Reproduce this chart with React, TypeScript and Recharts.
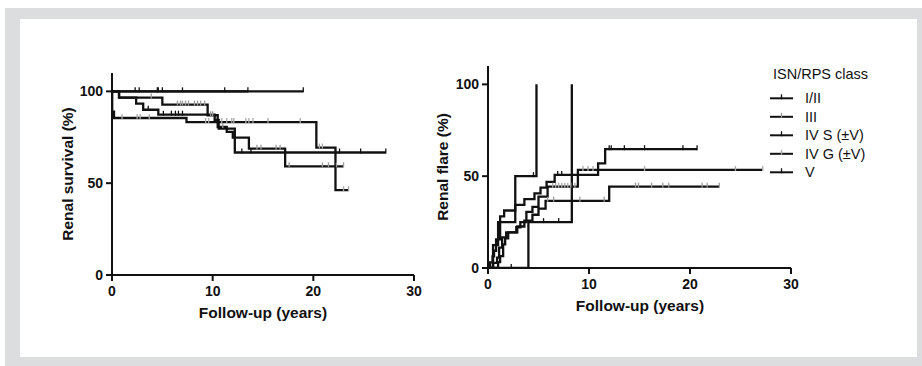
import React from 'react';
import { LineChart, Line, XAxis, YAxis, Legend } from 'recharts';

type Step = [number, number];

const classes = ['I/II', 'III', 'IV S (±V)', 'IV G (±V)', 'V'];
const censorColors = ['#111111', '#9a9a9a', '#111111', '#a8a8a8', '#111111'];

const xTicks = [0, 10, 20, 30];
const yTicks = [0, 50, 100];

// Renal survival (%) - left panel
const survivalI: Step[] = [[0, 100]];
const survivalICensor = [2.3, 4.5, 7.0, 11.2, 19.0];
const survivalIII: Step[] = [[0, 100], [0.7, 96.6], [5.0, 92.8], [9.5, 87.0], [10.5, 80.6], [11.4, 77.9], [12.0, 74.8], [13.6, 68.8], [17.2, 59.2]];
const survivalIIICensor = [3.9, 6.5, 6.8, 7.0, 7.3, 7.6, 8.2, 8.5, 8.8, 9.2, 9.8, 10.0, 11.0, 14.4, 14.8, 16.3, 16.7, 17.6, 20.9, 21.5, 22.3, 23.0];
const survivalIVS: Step[] = [[0, 100], [0.7, 96.6], [2.4, 93.3], [3.1, 90.0], [4.6, 87.3], [10.2, 84.4], [10.6, 79.7], [12.2, 66.7]];
const survivalIVSCensor = [3.6, 5.1, 5.9, 6.3, 6.6, 7.0, 12.9, 13.8, 22.6, 24.7, 27.2];
const survivalIVG: Step[] = [[0, 100], [0.02, 88.9], [0.2, 85.5], [7.4, 83.3], [20.3, 69.4], [22.2, 46.2]];
const survivalIVGCensor = [1.0, 2.5, 2.8, 3.7, 9.3, 9.6, 10.9, 11.4, 11.9, 12.1, 13.3, 13.6, 14.0, 15.5, 18.7, 20.6, 20.9, 23.0, 23.5];
const survivalV: Step[] = [[0, 100]];
const survivalVCensor = [2.7, 4.6, 5.0, 13.5];

// Renal flare (%) - right panel
const flareI: Step[] = [[0, 0], [4.0, 25], [8.3, 100]];
const flareICensor = [2.3, 5.5, 7.0];
const flareIII: Step[] = [[0, 0], [1.0, 3.2], [1.2, 6.5], [1.5, 12.9], [1.7, 16.1], [2.0, 19.4], [2.9, 22.6], [3.6, 25.8], [4.4, 29.0], [5.0, 32.3], [5.7, 36.6], [12.0, 44.3]];
const flareIIICensor = [5.9, 6.5, 9.1, 11.5, 14.6, 14.9, 16.2, 17.3, 17.9, 21.2, 21.7, 22.9];
const flareIVS: Step[] = [[0, 0], [0.2, 3.1], [0.45, 6.3], [0.6, 9.4], [0.8, 15.6], [1.2, 28.1], [1.6, 31.3], [2.7, 34.4], [3.6, 37.5], [4.6, 40.6], [5.2, 43.8], [5.8, 46.9], [6.6, 50.7], [10.9, 57.0], [11.6, 64.7]];
const flareIVSCensor = [6.9, 7.3, 12.0, 12.2, 13.5, 15.5, 19.3, 20.7];
const flareIVG: Step[] = [[0, 0], [0.5, 2.8], [0.9, 5.6], [1.1, 11.1], [1.4, 16.7], [1.8, 19.4], [2.8, 22.2], [3.2, 25.0], [3.8, 30.6], [4.4, 33.3], [5.0, 38.9], [5.9, 44.3], [8.9, 53.4]];
const flareIVGCensor = [6.4, 6.7, 7.0, 7.3, 7.6, 7.9, 8.2, 8.6, 9.4, 9.9, 10.4, 15.5, 24.5, 27.2];
const flareV: Step[] = [[0, 0], [0.5, 12.5], [1.0, 25], [2.7, 50], [4.8, 100]];
const flareVCensor = [4.5];

const buildCurve = (steps: Step[], censor: number[]) => {
  const levelAt = (t: number) => {
    let v = steps[0][1];
    steps.forEach(([x, y]) => {
      if (x <= t) v = y;
    });
    return v;
  };
  const pts = steps.map(([x, y]) => ({ x, y, c: false }));
  censor.forEach((t) => pts.push({ x: t, y: levelAt(t), c: true }));
  pts.sort((a, b) => a.x - b.x || (a.c ? 1 : -1));
  return pts;
};

const survivalCurves = [
  buildCurve(survivalI, survivalICensor),
  buildCurve(survivalIII, survivalIIICensor),
  buildCurve(survivalIVS, survivalIVSCensor),
  buildCurve(survivalIVG, survivalIVGCensor),
  buildCurve(survivalV, survivalVCensor),
];

const flareCurves = [
  buildCurve(flareI, flareICensor),
  buildCurve(flareIII, flareIIICensor),
  buildCurve(flareIVS, flareIVSCensor),
  buildCurve(flareIVG, flareIVGCensor),
  buildCurve(flareV, flareVCensor),
];

const FONT = '"Liberation Sans", Arial, Helvetica, sans-serif';
const INK = '#111111';
const tickStyle = { fontFamily: FONT, fontSize: 14, fontWeight: 700, fill: INK };
const titleStyle = { fontFamily: FONT, fontSize: 15.5, fontWeight: 700, fill: INK };

const censorDot = (color: string) => (props: any) => {
  const { cx, cy, payload, index } = props;
  if (!payload || !payload.c) return <g key={`n-${index}`} />;
  return <line key={`c-${index}`} x1={cx} x2={cx} y1={cy - 4} y2={cy + 1} stroke={color} strokeWidth={1.3} />;
};

const axisTitle = (text: string, x: number, y: number, rotate?: boolean) => ({
  content: () => (
    <text
      x={x}
      y={y}
      textAnchor="middle"
      transform={rotate ? `rotate(-90 ${x} ${y})` : undefined}
      style={titleStyle}
    >
      {text}
    </text>
  ),
});

const renderLegend = () => (
  <svg width={150} height={125}>
    <text x={7} y={19} style={{ fontFamily: FONT, fontSize: 14.5, fill: INK }}>ISN/RPS class</text>
    {classes.map((name, i) => {
      const y = 38.3 + i * 18.5;
      return (
        <g key={name}>
          <line x1={4} x2={27} y1={y} y2={y} stroke={INK} strokeWidth={2} />
          <line x1={15.5} x2={15.5} y1={y - 4} y2={y + 1} stroke={censorColors[i]} strokeWidth={1.3} />
          <text x={39} y={y + 5} style={{ fontFamily: FONT, fontSize: 14.5, fill: INK }}>{name}</text>
        </g>
      );
    })}
  </svg>
);

const KMChart: React.FC<{
  curves: { x: number; y: number; c: boolean }[][];
  width: number;
  height: number;
  margin: { top: number; right: number; bottom: number; left: number };
  yTitle: any;
  xTitle: any;
  legend?: boolean;
}> = ({ curves, width, height, margin, yTitle, xTitle, legend }) => (
  <LineChart width={width} height={height} margin={margin}>
    <XAxis
      type="number"
      dataKey="x"
      domain={[0, 30]}
      ticks={xTicks}
      interval={0}
      allowDataOverflow
      height={30}
      tickSize={6}
      tickMargin={5}
      tick={tickStyle}
      axisLine={{ stroke: INK, strokeWidth: 2 }}
      tickLine={{ stroke: INK, strokeWidth: 2 }}
      label={xTitle}
    />
    <YAxis
      type="number"
      domain={[0, 110]}
      ticks={yTicks}
      interval={0}
      allowDataOverflow
      width={60}
      tickSize={6}
      tickMargin={3}
      tick={tickStyle}
      axisLine={{ stroke: INK, strokeWidth: 2 }}
      tickLine={{ stroke: INK, strokeWidth: 2 }}
      label={yTitle}
    />
    {legend && (
      <Legend
        layout="vertical"
        align="center"
        verticalAlign="middle"
        content={renderLegend}
        wrapperStyle={{ left: 346, top: 20, width: 150, height: 125 }}
      />
    )}
    {curves.map((data, i) => (
      <Line
        key={classes[i]}
        name={classes[i]}
        data={data}
        dataKey="y"
        type="stepAfter"
        stroke={INK}
        strokeWidth={2.3}
        dot={censorDot(censorColors[i])}
        activeDot={false}
        isAnimationActive={false}
      />
    ))}
  </LineChart>
);

export default function App() {
  return (
    <div style={{ position: 'absolute', left: 0, top: 0, width: 922, height: 366, background: '#ffffff', overflow: 'hidden' }}>
      <div style={{ position: 'absolute', left: 5, top: 8, width: 917, height: 358, background: '#dcdddf' }} />
      <div style={{ position: 'absolute', left: 20, top: 19, width: 897, height: 338, background: '#ffffff' }} />
      <div style={{ position: 'absolute', left: 40, top: 50 }}>
        <KMChart
          curves={survivalCurves}
          width={390}
          height={285}
          margin={{ top: 23, right: 16, bottom: 30, left: 12 }}
          yTitle={axisTitle('Renal survival (%)', 33, 124, true)}
          xTitle={axisTitle('Follow-up (years)', 223, 268)}
        />
      </div>
      <div style={{ position: 'absolute', left: 420, top: 40 }}>
        <KMChart
          curves={flareCurves}
          width={497}
          height={288}
          margin={{ top: 26, right: 126, bottom: 30, left: 8 }}
          yTitle={axisTitle('Renal flare (%)', 28, 127, true)}
          xTitle={axisTitle('Follow-up (years)', 220, 271)}
          legend
        />
      </div>
    </div>
  );
}
